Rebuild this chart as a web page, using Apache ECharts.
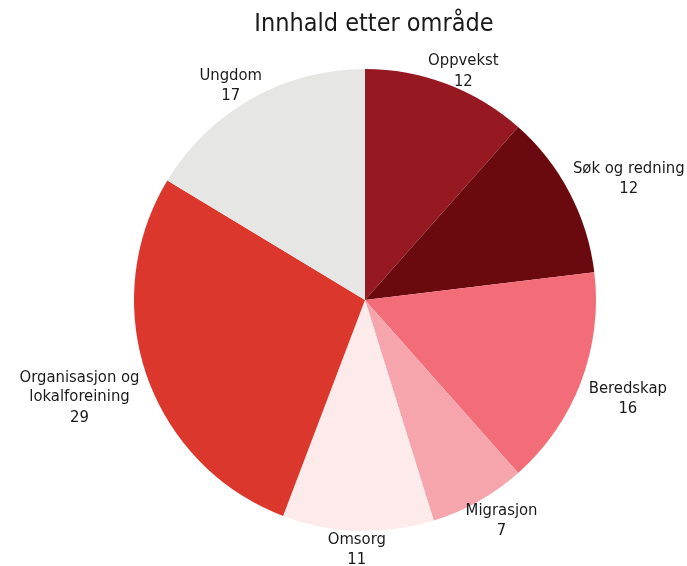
<!DOCTYPE html>
<html>
<head>
<meta charset="utf-8">
<script src="https://cdn.jsdelivr.net/npm/echarts@6/dist/echarts.min.js"></script>
<style>
  html, body { margin: 0; padding: 0; background: #fff; }
  #chart { width: 687px; height: 566px; }
</style>
</head>
<body>
<div id="chart"></div>
<script>
// data, clockwise from 12 o'clock
var names = ['Oppvekst', 'Søk og redning', 'Beredskap', 'Migrasjon', 'Omsorg', 'Organisasjon og\nlokalforeining', 'Ungdom'];
var values = [12, 12, 16, 7, 11, 29, 17];
var colors = ['#961922', '#6b0a0e', '#f26d78', '#f7a5ad', '#fdeaea', '#db372c', '#e6e7e4'];

var FONT = '"Liberation Sans Narrow", "DejaVu Sans Condensed", "Open Sans", sans-serif';
var cx = 365, cy = 300, R = 231;

var total = values.reduce(function (a, b) { return a + b; }, 0);
var midAngles = [];
var acc = 0;
for (var i = 0; i < values.length; i++) {
    midAngles.push((acc + values[i] / 2) / total * Math.PI * 2);
    acc += values[i];
}

var pieData = [];
for (var j = 0; j < names.length; j++) {
    pieData.push({ name: names[j], value: values[j], itemStyle: { color: colors[j] } });
}

function clamp1(v) { return Math.max(-1, Math.min(1, v)); }

var myChart = echarts.init(document.getElementById('chart'));

var option = {
    animation: false,
    title: {
        text: 'Innhald etter område',
        left: 369,
        textAlign: 'center',
        top: 7,
        textStyle: { fontFamily: FONT, fontSize: 25, fontWeight: 'normal', color: '#1a1a1a' }
    },
    series: [{
        type: 'pie',
        center: [cx, cy],
        radius: R,
        startAngle: 90,
        clockwise: true,
        avoidLabelOverlap: false,
        data: pieData,
        itemStyle: { borderWidth: 0 },
        label: {
            show: true,
            position: 'outside',
            formatter: function (p) {
                return '{n|' + p.name.split('\n').join('}\n{n|') + '}\n{v|' + p.value + '}';
            },
            rich: {
                n: { fontFamily: FONT, fontSize: 16.5, lineHeight: 19, color: '#1a1a1a', align: 'center' },
                v: { fontFamily: FONT, fontSize: 16.5, lineHeight: 22, color: '#1a1a1a', align: 'center' }
            }
        },
        labelLine: { show: false },
        labelLayout: function (params) {
            var a = midAngles[params.dataIndex];
            var ux = Math.sin(a), uy = -Math.cos(a);
            var w = params.labelRect.width, h = params.labelRect.height;
            return {
                x: cx + ux * 242 + ux * w / 2,
                y: cy + uy * 228 + clamp1(uy * 2.2) * h / 2 + 4,
                align: 'center',
                verticalAlign: 'middle'
            };
        }
    }]
};

myChart.setOption(option);
</script>
</body>
</html>
